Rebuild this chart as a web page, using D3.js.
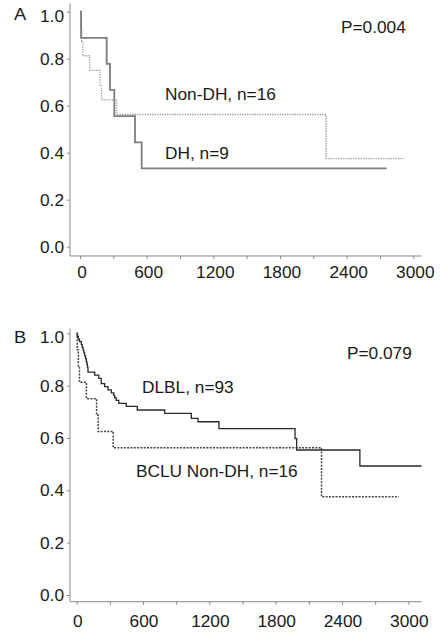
<!DOCTYPE html>
<html>
<head>
<meta charset="utf-8">
<script src="https://cdn.jsdelivr.net/npm/d3@7"></script>
<style>
  html, body { margin: 0; padding: 0; background: #fff; }
  svg { display: block; }
  text { font-family: "Liberation Sans", Arial, sans-serif; fill: #1a1a1a; }
</style>
</head>
<body>
<svg id="chart" width="440" height="635"></svg>
<script>
// ---------- data ----------
const xTicks = [0, 300, 600, 900, 1200, 1500, 1800, 2100, 2400, 2700, 3000];
const xLabels = [0, 600, 1200, 1800, 2400, 3000];
const yTicks = [0, 0.2, 0.4, 0.6, 0.8, 1.0];

// Panel A: DH, n=9 (solid)
const dhTimes = [0, 10, 240, 270, 309, 495, 555];
const dhSurv  = [1, 0.889, 0.778, 0.667, 0.556, 0.444, 0.333];
const dhEnd = 2760;

// Non-DH, n=16 (used in both panels)
const nonDhTimes = [0, 5, 15, 25, 88, 180, 194, 330, 2215];
const nonDhSurv  = [1, 0.9375, 0.875, 0.8125, 0.75, 0.6875, 0.625, 0.5625, 0.375];
const nonDhEnd = 2915;

// Panel B: DLBL, n=93 (solid)
const dlblTimes = [0, 5, 15, 25, 42, 50, 58, 65, 72, 80, 87, 92, 97, 102, 163, 200, 222, 253, 283, 313, 335, 344, 358, 380, 449, 548, 796, 1037, 1097, 1287, 1975, 1990, 2562];
const dlblSurv  = [1, 0.989, 0.978, 0.968, 0.957, 0.946, 0.935, 0.925, 0.914, 0.903, 0.892, 0.882, 0.871, 0.852, 0.840, 0.828, 0.808, 0.796, 0.784, 0.772, 0.763, 0.753, 0.744, 0.732, 0.721, 0.707, 0.694, 0.675, 0.662, 0.636, 0.598, 0.554, 0.493];
const dlblEnd = 3120;

// ---------- drawing ----------
const svg = d3.select("#chart");
const FS = 16;
const SX = 1.08;

function curve(times, surv, end) {
  const pts = times.map((t, i) => ({ t, s: surv[i] }));
  pts.push({ t: end, s: surv[surv.length - 1] });
  return pts;
}

function place(sel, fx, fy) {
  sel.attr("transform", (d, i) => `translate(${fx(d, i)},${fy(d, i)}) scale(${SX},1)`);
}

function panel(cfg) {
  const g = svg.append("g");
  const x = d3.scaleLinear().domain([0, 3000]).range(cfg.xr);
  const y = d3.scaleLinear().domain([0, 1]).range(cfg.yr);

  // axis lines
  g.append("line")
    .attr("x1", x(cfg.xMin)).attr("x2", x(cfg.xMax))
    .attr("y1", y(cfg.yMin)).attr("y2", y(cfg.yMin))
    .attr("stroke", "#8a8a8a").attr("stroke-width", 1);
  g.append("line")
    .attr("x1", x(cfg.xMin)).attr("x2", x(cfg.xMin))
    .attr("y1", y(cfg.yMin)).attr("y2", y(cfg.yMax))
    .attr("stroke", "#8a8a8a").attr("stroke-width", 1);

  // tick marks via d3 axes
  const xa = g.append("g").attr("transform", `translate(0,${y(cfg.yMin)})`)
    .call(d3.axisBottom(x).tickValues(xTicks).tickSize(3).tickFormat(""));
  xa.select(".domain").remove();
  xa.selectAll("line").attr("stroke", "#8a8a8a");
  const ya = g.append("g").attr("transform", `translate(${x(cfg.xMin)},0)`)
    .call(d3.axisLeft(y).tickValues(yTicks).tickSize(3).tickFormat(""));
  ya.select(".domain").remove();
  ya.selectAll("line").attr("stroke", "#8a8a8a");

  // tick labels
  g.selectAll(".xl").data(xLabels).enter().append("text")
    .attr("text-anchor", "middle")
    .attr("font-size", FS)
    .text(d => d)
    .call(place, d => x(d) + cfg.xlOff, () => cfg.xlBase);
  g.selectAll(".yl").data(yTicks).enter().append("text")
    .attr("text-anchor", "end")
    .attr("font-size", FS)
    .text(d => d3.format(".1f")(d))
    .call(place, () => x(cfg.xMin) - 6, d => y(d) + 6 + (d === 1 ? 4 : 0));

  const line = d3.line().x(d => x(d.t)).y(d => y(d.s)).curve(d3.curveStepAfter);
  cfg.series.forEach(s => {
    g.append("path")
      .datum(curve(s.times, s.surv, s.end))
      .attr("d", line)
      .attr("fill", "none")
      .attr("stroke", s.color)
      .attr("stroke-width", s.width)
      .attr("stroke-dasharray", s.dash || null);
  });

  g.selectAll(".lab").data(cfg.texts).enter().append("text")
    .attr("font-size", d => d.fs || FS)
    .text(d => d.s)
    .call(place, d => d.x, d => d.y);
}

panel({
  xr: [80, 413.3], yr: [246.7, 11.7],
  xMin: -90, xMax: 3075, yMin: -0.0395, yMax: 1.035,
  xlOff: 2, xlBase: 278,
  series: [
    { times: nonDhTimes, surv: nonDhSurv, end: nonDhEnd, color: "#9a9a9a", width: 1.3, dash: "1.3,1.2" },
    { times: dhTimes, surv: dhSurv, end: dhEnd, color: "#7d7d7d", width: 1.8 }
  ],
  texts: [
    { x: 14, y: 20, s: "A", fs: 17 },
    { x: 341, y: 33, s: "P=0.004" },
    { x: 165, y: 100, s: "Non-DH, n=16" },
    { x: 165, y: 159, s: "DH, n=9" }
  ]
});

panel({
  xr: [76.7, 408.3], yr: [595, 333.3],
  xMin: -60.6, xMax: 3120, yMin: -0.0256, yMax: 1.019,
  xlOff: 1, xlBase: 627,
  series: [
    { times: nonDhTimes, surv: nonDhSurv, end: nonDhEnd, color: "#444", width: 1.5, dash: "2,1.3" },
    { times: dlblTimes, surv: dlblSurv, end: dlblEnd, color: "#2a2a2a", width: 1.3 }
  ],
  texts: [
    { x: 14, y: 343, s: "B", fs: 17 },
    { x: 347, y: 359, s: "P=0.079" },
    { x: 142, y: 393, s: "DLBL, n=93" },
    { x: 136, y: 477, s: "BCLU Non-DH, n=16" }
  ]
});
</script>
</body>
</html>
